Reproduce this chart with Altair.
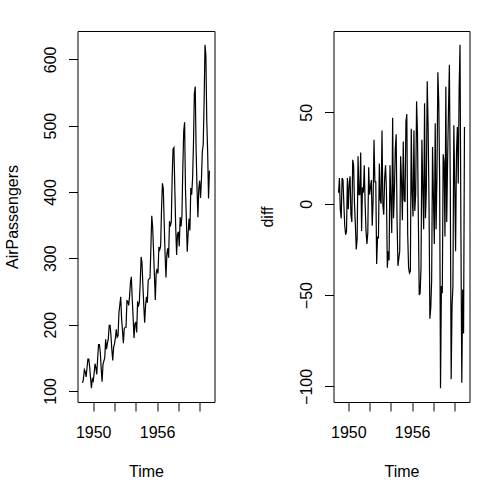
import altair as alt
import numpy as np
import pandas as pd

# Monthly international airline passengers (thousands), Jan 1949 - Dec 1960
start_year = 1949
passengers = [
    112, 118, 132, 129, 121, 135, 148, 148, 136, 119, 104, 118,
    115, 126, 141, 135, 125, 149, 170, 170, 158, 133, 114, 140,
    145, 150, 178, 163, 172, 178, 199, 199, 184, 162, 146, 166,
    171, 180, 193, 181, 183, 218, 230, 242, 209, 191, 172, 194,
    196, 196, 236, 235, 229, 243, 264, 272, 237, 211, 180, 201,
    204, 188, 235, 227, 234, 264, 302, 293, 259, 229, 203, 229,
    242, 233, 267, 269, 270, 315, 364, 347, 312, 274, 237, 278,
    284, 277, 317, 313, 318, 374, 413, 405, 355, 306, 271, 306,
    315, 301, 356, 348, 355, 422, 465, 467, 404, 347, 305, 336,
    340, 318, 362, 348, 363, 435, 491, 505, 404, 359, 310, 337,
    360, 342, 406, 396, 420, 472, 548, 559, 463, 407, 362, 405,
    417, 391, 419, 461, 472, 535, 622, 606, 508, 461, 390, 432,
]
x_ticks = [1950, 1952, 1954, 1956, 1958, 1960]
x_labelled = [1950, 1956]
left_y_ticks = [100, 200, 300, 400, 500, 600]
right_y_ticks = [-100, -50, 0, 50]

time = start_year + np.arange(len(passengers)) / 12.0
series = pd.DataFrame({"time": time, "value": passengers})
# first difference of the series, indexed from the second month
differenced = pd.DataFrame({"time": time[1:], "value": np.diff(passengers)})

FONT = "Liberation Sans"
PANEL_H = 371


def padded(lo, hi):
    # axis range widened by 4% as in base R graphics
    d = (hi - lo) * 0.04
    return [float(lo - d), float(hi + d)]


def panel(df, y_title, y_ticks, title_x, width):
    label_test = " || ".join(f"datum.value == {v}" for v in x_labelled)
    x = alt.X(
        "time:Q",
        scale=alt.Scale(domain=padded(df.time.min(), df.time.max()), nice=False, zero=False),
        axis=alt.Axis(
            values=x_ticks, format="d", labelExpr=f"({label_test}) ? datum.label : ''",
            labelBaseline="alphabetic", labelPadding=26, labelOverlap=False,
            labelFlush=False, title="Time", titleBaseline="alphabetic", titleY=74,
        ),
    )
    y = alt.Y(
        "value:Q",
        scale=alt.Scale(domain=padded(df.value.min(), df.value.max()), nice=False, zero=False),
        axis=alt.Axis(
            values=y_ticks, labelAngle=270, labelAlign="center", labelBaseline="alphabetic",
            labelPadding=13, labelOverlap=False, labelFlush=False,
            title=y_title, titleAngle=270, titleAlign="center", titleBaseline="alphabetic",
            titleX=title_x, titleY=PANEL_H / 2,
        ),
    )
    return (
        alt.Chart(df)
        .mark_line(color="black", strokeWidth=1.2)
        .encode(x=x, y=y)
        .properties(width=width, height=PANEL_H)
    )


left = panel(series, "AirPassengers", left_y_ticks, -60.5, 137)
right = panel(differenced, "diff", right_y_ticks, -61.5, 136)

chart = (
    alt.hconcat(left, right, spacing=119, bounds="flush")
    .properties(padding={"left": 3.5, "top": 30, "right": 0, "bottom": 0}, background="white")
    .configure_view(stroke="black", strokeWidth=1)
    .configure_axis(
        domain=False, grid=False, ticks=True, tickSize=9, tickColor="black", tickWidth=1,
        labelFont=FONT, labelFontSize=16, labelColor="black",
        titleFont=FONT, titleFontSize=16, titleFontWeight="normal", titleColor="black",
    )
)

chart.save("out.html", embed_options={"renderer": "svg", "actions": False})
